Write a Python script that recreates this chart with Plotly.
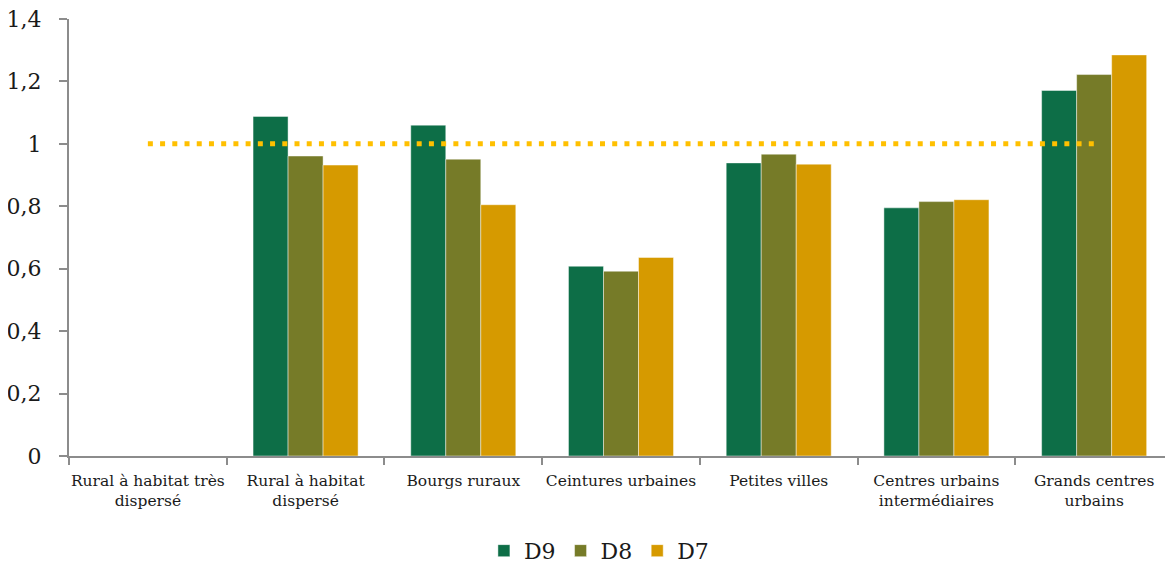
import plotly.graph_objects as go

categories = [
    "Rural à habitat très<br>dispersé",
    "Rural à habitat<br>dispersé",
    "Bourgs ruraux",
    "Ceintures urbaines",
    "Petites villes",
    "Centres urbains<br>intermédiaires",
    "Grands centres<br>urbains",
]
d9 = [None, 1.088, 1.060, 0.608, 0.939, 0.795, 1.171]
d8 = [None, 0.961, 0.951, 0.592, 0.967, 0.815, 1.222]
d7 = [None, 0.932, 0.805, 0.636, 0.935, 0.821, 1.285]
ref_x = [categories[0], categories[-1]]
ref_y = [1, 1]

series = [("D9", d9, "#0D6E47"), ("D8", d8, "#767B28"), ("D7", d7, "#D69A00")]

fig = go.Figure()
for name, vals, col in series:
    fig.add_trace(go.Bar(
        x=categories, y=vals, name=name,
        marker=dict(color=col, line=dict(color="rgba(255,255,255,0.45)", width=1)),
    ))
fig.add_trace(go.Scatter(
    x=ref_x, y=ref_y, mode="lines", showlegend=False,
    line=dict(color="#FFC000", width=5, dash="5px,7.22px"),
))

# page body has an 8px default margin, so the figure is offset by 8px
fig.update_layout(
    width=1165, height=564,
    margin=dict(l=61, r=0, t=11, b=113),
    paper_bgcolor="white", plot_bgcolor="white",
    barmode="group", bargap=0.334, bargroupgap=0,
    separators=", ",
    font=dict(family="DejaVu Serif, Liberation Serif, serif", color="#1a1a1a"),
    legend=dict(orientation="h", x=0.48, xanchor="center", y=-0.217, yanchor="middle",
                font=dict(size=22), itemwidth=30, traceorder="normal", tracegroupgap=0),
    showlegend=True,
)
fig.update_xaxes(
    type="category", showline=True, linecolor="#8C8C8C", linewidth=2,
    ticks="outside", tickson="boundaries", ticklen=7, tickcolor="#8C8C8C", tickwidth=2,
    tickfont=dict(size=15.5), showgrid=False, automargin=False, ticklabelstandoff=9,
    tickangle=0,
)
fig.update_yaxes(
    range=[0, 1.4], dtick=0.2, showline=True, linecolor="#8C8C8C", linewidth=2,
    ticks="outside", ticklen=8, tickcolor="#8C8C8C", tickwidth=2,
    tickfont=dict(size=22), showgrid=False, zeroline=False, ticklabelstandoff=13,
    automargin=False, ticklabeloverflow="allow",
)

fig.write_html("out.html")
